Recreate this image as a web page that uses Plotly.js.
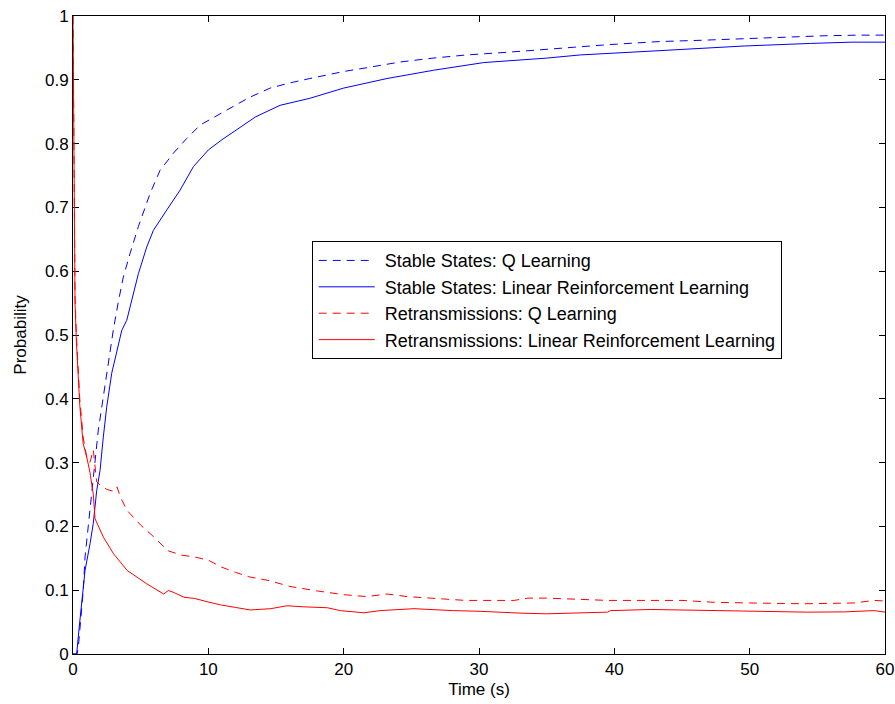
<!DOCTYPE html>
<html>
<head>
<meta charset="utf-8">
<script src="https://cdn.plot.ly/plotly-3.0.1.min.js"></script>
<style>
  html, body { margin: 0; padding: 0; background: #ffffff; }
  #chart { width: 895px; height: 704px; }
</style>
</head>
<body>
<div id="chart"></div>
<script>
// Stable states, Q learning
const stableQTime = [0, 0.3, 0.39, 0.59, 0.76, 0.89, 1.13, 1.38, 1.63, 1.87, 2.24, 2.61, 2.98, 3.35, 3.72, 4.22, 4.83, 5.7, 6.43, 7.42, 8.4, 9.39, 10.5, 11.86, 13, 14.57, 16, 17.5, 20, 22, 24.2, 26.6, 29.1, 32, 34.8, 37, 39.5, 43.4, 46.5, 49.8, 52.5, 55.5, 58, 60];
const stableQProb = [0, 0, 0.01, 0.053, 0.10, 0.152, 0.199, 0.246, 0.298, 0.351, 0.403, 0.455, 0.508, 0.552, 0.591, 0.628, 0.670, 0.722, 0.758, 0.785, 0.808, 0.829, 0.842, 0.858, 0.872, 0.887, 0.895, 0.902, 0.913, 0.920, 0.928, 0.934, 0.939, 0.943, 0.948, 0.951, 0.955, 0.960, 0.962, 0.965, 0.967, 0.969, 0.970, 0.970];

// Stable states, linear reinforcement learning
const stableLTime = [0, 0.27, 0.45, 0.64, 0.89, 1.26, 1.5, 1.75, 2.0, 2.24, 2.49, 2.86, 3.23, 3.6, 3.97, 4.34, 4.83, 5.45, 5.94, 6.93, 7.91, 8.9, 10.0, 11, 12.23, 13.5, 15.3, 17.5, 20, 23.2, 26.65, 30.35, 35, 37.5, 41.9, 45.4, 49.6, 54.5, 57.5, 60];
const stableLProb = [0, 0, 0.04, 0.079, 0.131, 0.173, 0.205, 0.256, 0.288, 0.340, 0.387, 0.44, 0.476, 0.507, 0.523, 0.555, 0.596, 0.638, 0.664, 0.696, 0.727, 0.764, 0.790, 0.806, 0.824, 0.842, 0.860, 0.871, 0.887, 0.902, 0.915, 0.927, 0.934, 0.939, 0.944, 0.948, 0.953, 0.957, 0.959, 0.959];

// Retransmissions, Q learning
const retransQTime = [0, 0.05, 0.1, 0.15, 0.25, 0.35, 0.5, 0.75, 1.0, 1.25, 1.5, 1.75, 2.0, 2.5, 3.0, 3.25, 3.5, 4, 5, 6, 7, 8, 9, 10, 11, 12, 13, 14.5, 16, 18, 20, 21.7, 23.2, 24.7, 26.6, 29, 32.6, 33.6, 35, 39.5, 45, 47.4, 50, 54, 57.7, 59.2, 60];
const retransQProb = [1.0, 0.82, 0.64, 0.56, 0.50, 0.46, 0.40, 0.34, 0.31, 0.30, 0.32, 0.27, 0.265, 0.258, 0.255, 0.262, 0.246, 0.225, 0.202, 0.183, 0.162, 0.155, 0.152, 0.147, 0.136, 0.128, 0.121, 0.115, 0.106, 0.099, 0.093, 0.090, 0.094, 0.090, 0.0876, 0.084, 0.084, 0.0876, 0.0876, 0.084, 0.084, 0.081, 0.080, 0.0787, 0.080, 0.084, 0.083];

// Retransmissions, linear reinforcement learning
const retransLTime = [0, 0.05, 0.1, 0.15, 0.25, 0.35, 0.5, 0.75, 1.0, 1.25, 1.5, 1.63, 2.0, 2.25, 3.0, 4.0, 5.45, 6.7, 7.05, 7.5, 8.2, 9.0, 9.9, 10.9, 12, 13.1, 14.6, 15.8, 17, 18.8, 19.75, 21.5, 22.7, 25.2, 28.1, 30, 33.1, 35, 39.5, 39.7, 42.7, 44.9, 47.4, 49.3, 54.3, 57, 59.2, 60];
const retransLProb = [1.0, 0.78, 0.62, 0.55, 0.49, 0.44, 0.39, 0.33, 0.31, 0.285, 0.25, 0.212, 0.193, 0.183, 0.157, 0.131, 0.110, 0.094, 0.0996, 0.096, 0.089, 0.087, 0.082, 0.077, 0.073, 0.069, 0.071, 0.0756, 0.074, 0.0725, 0.068, 0.0646, 0.068, 0.071, 0.068, 0.067, 0.064, 0.063, 0.0656, 0.068, 0.0698, 0.069, 0.069, 0.068, 0.0656, 0.066, 0.068, 0.0656];

const seriesNames = [
  'Stable States: Q Learning',
  'Stable States: Linear Reinforcement Learning',
  'Retransmissions: Q Learning',
  'Retransmissions: Linear Reinforcement Learning'
];

const blue = '#0000ff';
const red = '#ff0000';
const dashPattern = '8px,6px';

const traces = [
  { x: stableQTime, y: stableQProb, name: seriesNames[0], mode: 'lines',
    line: { color: blue, width: 1, dash: dashPattern } },
  { x: stableLTime, y: stableLProb, name: seriesNames[1], mode: 'lines',
    line: { color: blue, width: 1 } },
  { x: retransQTime, y: retransQProb, name: seriesNames[2], mode: 'lines',
    line: { color: red, width: 1, dash: dashPattern } },
  { x: retransLTime, y: retransLProb, name: seriesNames[3], mode: 'lines',
    line: { color: red, width: 1 } }
];

const family = 'Liberation Sans, Arial, sans-serif';

const layout = {
  width: 895,
  height: 704,
  paper_bgcolor: '#ffffff',
  plot_bgcolor: '#ffffff',
  margin: { l: 73, r: 10, t: 16, b: 50, pad: 0 },
  font: { family: family, size: 17, color: '#000000' },
  showlegend: true,
  legend: {
    x: 0.294, y: 0.647, xanchor: 'left', yanchor: 'top',
    bgcolor: '#ffffff', bordercolor: '#000000', borderwidth: 1,
    font: { family: family, size: 18, color: '#000000' },
    itemwidth: 62,
    tracegroupgap: 0
  },
  xaxis: {
    range: [0, 60], dtick: 10, tick0: 0,
    showgrid: false, zeroline: false, layer: 'below traces',
    showline: true, linecolor: '#000000', linewidth: 1, mirror: 'allticks',
    ticks: 'inside', ticklen: 6, tickcolor: '#000000',
    tickfont: { family: family, size: 17, color: '#000000' },
    title: { text: 'Time (s)', font: { family: family, size: 17, color: '#000000' }, standoff: 4 }
  },
  yaxis: {
    range: [0, 1], dtick: 0.1, tick0: 0,
    showgrid: false, zeroline: false, layer: 'below traces',
    showline: true, linecolor: '#000000', linewidth: 1, mirror: 'allticks',
    ticks: 'inside', ticklen: 6, tickcolor: '#000000',
    tickfont: { family: family, size: 17, color: '#000000' },
    title: { text: 'Probability', font: { family: family, size: 17, color: '#000000' }, standoff: 14 }
  }
};

Plotly.newPlot('chart', traces, layout, { staticPlot: true, displayModeBar: false }).then(function (gd) {
  // Lengthen the legend line samples to fill the wider symbol column
  gd.querySelectorAll('.legend .legendlines path').forEach(function (p) {
    p.setAttribute('d', 'M6,0h56');
  });
});
</script>
</body>
</html>
